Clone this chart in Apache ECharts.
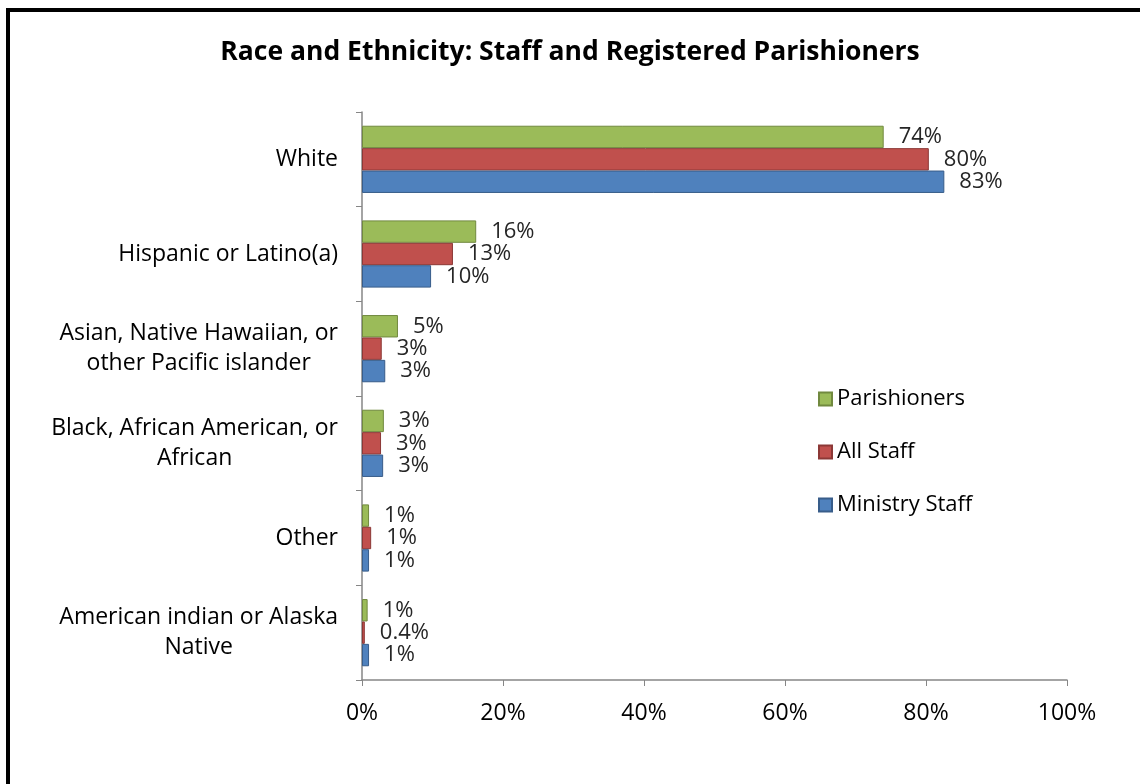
<!DOCTYPE html>
<html>
<head>
<meta charset="utf-8">
<title>Race and Ethnicity: Staff and Registered Parishioners</title>
<script src="https://cdn.jsdelivr.net/npm/echarts@6/dist/echarts.min.js"></script>
<style>
  html, body { margin: 0; padding: 0; background: #fff; overflow: hidden; }
  .frame {
    position: absolute; left: 6px; top: 8px; width: 1200px; height: 900px;
    border: 4px solid #000; box-sizing: border-box;
  }
  #chart { position: absolute; left: 0; top: 0; width: 1140px; height: 784px; }
</style>
</head>
<body>
<div class="frame"></div>
<div id="chart"></div>
<script>
  // categories, top to bottom
  const categories = [
    'White',
    'Hispanic or Latino(a)',
    'Asian, Native Hawaiian, or\nother Pacific islander',
    'Black, African American, or\nAfrican',
    'Other',
    'American indian or Alaska\nNative'
  ];
  const parishioners = [74, 16.2, 5.1, 3.1, 1, 0.8];
  const allStaff = [80.4, 12.9, 2.8, 2.7, 1.3, 0.4];
  const ministryStaff = [82.6, 9.8, 3.3, 3.0, 1, 1];
  const xTicks = [0, 20, 40, 60, 80, 100];

  const font = '"Open Sans", Lato, sans-serif';

  function pct(p) {
    const v = p.value;
    return (v < 0.5 ? v.toFixed(1) : Math.round(v)) + '%';
  }

  function makeSeries(name, data, color, border) {
    return {
      name: name,
      type: 'bar',
      data: data,
      barGap: '0%',
      barCategoryGap: '29%',
      itemStyle: { color: color, borderColor: border, borderWidth: 1 },
      label: {
        show: true,
        position: 'right',
        distance: 15,
        formatter: pct,
        fontFamily: font,
        fontSize: 22,
        color: '#262626'
      }
    };
  }

  const chart = echarts.init(document.getElementById('chart'));
  chart.setOption({
    animation: false,
    title: {
      text: 'Race and Ethnicity: Staff and Registered Parishioners',
      left: 'center',
      top: 34,
      padding: [5, 5, 5, 30],
      textStyle: { fontFamily: font, fontSize: 26.5, fontWeight: 'bold', color: '#000' }
    },
    legend: {
      orient: 'vertical',
      left: 813,
      top: 383,
      itemGap: 31,
      itemWidth: 13,
      itemHeight: 13,
      icon: 'rect',
      data: ['Parishioners', 'All Staff', 'Ministry Staff'],
      textStyle: { fontFamily: font, fontSize: 22, color: '#000' }
    },
    grid: { left: 362, right: 73, top: 112, bottom: 104 },
    xAxis: {
      type: 'value',
      min: xTicks[0],
      max: xTicks[xTicks.length - 1],
      interval: 20,
      splitLine: { show: false },
      axisLine: { show: true, lineStyle: { color: '#868686', width: 1.5 } },
      axisTick: { show: true, length: 6, lineStyle: { color: '#868686' } },
      axisLabel: {
        formatter: '{value}%',
        margin: 22,
        fontFamily: font,
        fontSize: 23,
        color: '#000'
      }
    },
    yAxis: {
      type: 'category',
      inverse: true,
      data: categories,
      axisLine: { show: true, lineStyle: { color: '#868686', width: 1.5 } },
      axisTick: { show: true, length: 6, lineStyle: { color: '#868686' } },
      axisLabel: {
        margin: 24,
        lineHeight: 30,
        formatter: function (v) {
          return v.split('\n').map(function (s) { return '{c|' + s + '}'; }).join('\n');
        },
        rich: {
          c: { align: 'center', fontFamily: font, fontSize: 23, color: '#000', lineHeight: 30 }
        }
      }
    },
    series: [
      makeSeries('Parishioners', parishioners, '#9BBB59', '#71893F'),
      makeSeries('All Staff', allStaff, '#C0504D', '#8C3836'),
      makeSeries('Ministry Staff', ministryStaff, '#4F81BD', '#385D8A')
    ]
  });
</script>
</body>
</html>
